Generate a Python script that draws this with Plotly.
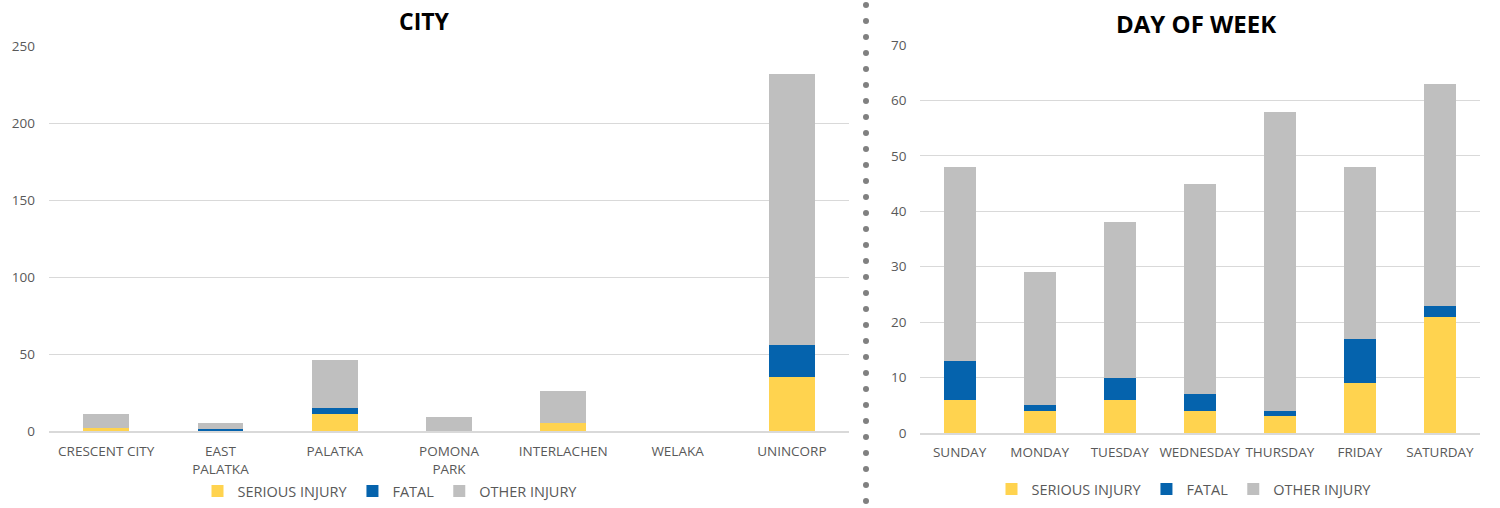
import plotly.graph_objects as go

# ---- data ----
cities = ["CRESCENT CITY", "EAST<br>PALATKA", "PALATKA", "POMONA<br>PARK", "INTERLACHEN", "WELAKA", "UNINCORP"]
city_serious = [2, 0, 11, 0, 5, 0, 35]
city_fatal = [0, 1, 4, 0, 0, 0, 21]
city_other = [9, 4, 31, 9, 21, 0, 176]

days = ["SUNDAY", "MONDAY", "TUESDAY", "WEDNESDAY", "THURSDAY", "FRIDAY", "SATURDAY"]
day_serious = [6, 4, 6, 4, 3, 9, 21]
day_fatal = [7, 1, 4, 3, 1, 8, 2]
day_other = [35, 24, 28, 38, 54, 31, 40]

series_names = ["SERIOUS INJURY", "FATAL", "OTHER INJURY"]
colors = ["#FFD34F", "#0563AD", "#BFBFBF"]

W, H = 1500, 508
FONT = "Open Sans"

fig = go.Figure()

for name, vals, col in zip(series_names, [city_serious, city_fatal, city_other], colors):
    fig.add_trace(go.Bar(x=cities, y=vals, name=name, marker=dict(color=col, line=dict(width=0)),
                         xaxis="x", yaxis="y", legend="legend", width=0.4))
for name, vals, col in zip(series_names, [day_serious, day_fatal, day_other], colors):
    fig.add_trace(go.Bar(x=days, y=vals, name=name, marker=dict(color=col, line=dict(width=0)),
                         xaxis="x2", yaxis="y2", legend="legend2", width=0.4))

axis_font = dict(family=FONT, size=13.5, color="#595959")
grid = "#D9D9D9"

fig.update_layout(
    width=W, height=H,
    barmode="stack",
    margin=dict(l=0, r=0, t=0, b=0, autoexpand=False),
    plot_bgcolor="white", paper_bgcolor="white",
    font=dict(family=FONT, color="#595959"),
    xaxis=dict(domain=[49 / W, 849 / W], tickfont=axis_font, showgrid=False, automargin=False,
               showline=True, linecolor=grid, linewidth=1.5, ticks="", anchor="y",
               ticklabelstandoff=7),
    yaxis=dict(domain=[1 - 431 / H, 1 - 46 / H], range=[0, 250], dtick=50, tickfont=axis_font,
               gridcolor=grid, gridwidth=1, zeroline=False, showline=False, ticks="", automargin=False,
               ticklabelstandoff=13, anchor="x"),
    xaxis2=dict(domain=[919.5 / W, 1480 / W], tickfont=axis_font, showgrid=False, automargin=False,
                showline=True, linecolor=grid, linewidth=1.5, ticks="", anchor="y2",
                ticklabelstandoff=6),
    yaxis2=dict(domain=[1 - 433 / H, 1 - 45 / H], range=[0, 70], dtick=10, tickfont=axis_font,
                gridcolor=grid, gridwidth=1, zeroline=False, showline=False, ticks="", automargin=False,
                ticklabelstandoff=12, anchor="x2"),
    legend=dict(orientation="h", x=390 / W, xanchor="center", y=1 - 491 / H, yanchor="middle",
                font=dict(family=FONT, size=14.5, color="#595959"), itemwidth=30, traceorder="normal",
                tracegroupgap=0),
    legend2=dict(orientation="h", x=1184 / W, xanchor="center", y=1 - 489 / H, yanchor="middle",
                 font=dict(family=FONT, size=14.5, color="#595959"), itemwidth=30, traceorder="normal"),
    annotations=[
        dict(text="<b>CITY</b>", x=424 / W, y=1 - 21 / H, xref="paper", yref="paper",
             showarrow=False, font=dict(family=FONT, size=23, color="#000000"),
             xanchor="center", yanchor="middle"),
        dict(text="<b>DAY OF WEEK</b>", x=1196 / W, y=1 - 23 / H, xref="paper", yref="paper",
             showarrow=False, font=dict(family=FONT, size=24, color="#000000"),
             xanchor="center", yanchor="middle"),
    ],
)

# dotted separator
shapes = []
r = 3.0
cx = 866
y = 5.0
while y <= 502:
    shapes.append(dict(type="circle", xref="paper", yref="paper",
                       x0=(cx - r) / W, x1=(cx + r) / W,
                       y0=1 - (y + r) / H, y1=1 - (y - r) / H,
                       fillcolor="#808080", line=dict(width=0)))
    y += 16.0
fig.update_layout(shapes=shapes)

fig.write_html("out.html", config={"displayModeBar": False},
               post_script="document.body.style.margin='0';document.body.style.overflow='hidden';")
